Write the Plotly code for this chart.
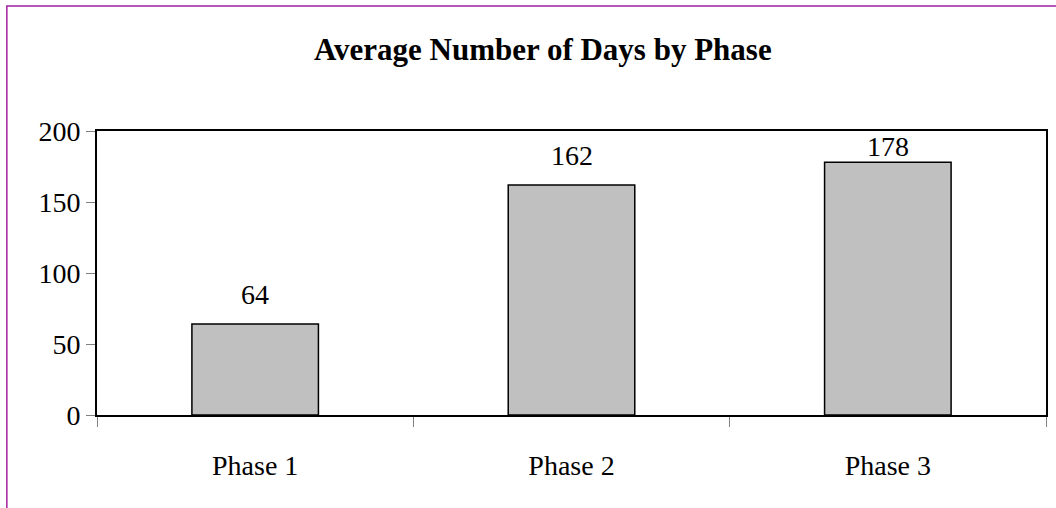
import plotly.graph_objects as go

# chart data
phases = ["Phase 1", "Phase 2", "Phase 3"]
avg_days = [64, 162, 178]
label_shift = [16, 16, 2]  # 178 label squeezed under the top border
y_ticks = [0, 50, 100, 150, 200]

font_family = "Liberation Serif"

fig = go.Figure(
    go.Bar(
        x=phases,
        y=avg_days,
        marker=dict(color="#C0C0C0", line=dict(color="black", width=1.5)),
        width=0.4,
    )
)

# value labels above the bars
for name, val, shift in zip(phases, avg_days, label_shift):
    fig.add_annotation(
        x=name,
        y=val,
        text=str(val),
        showarrow=False,
        yanchor="bottom",
        yshift=shift - 4,
        font=dict(family=font_family, size=28, color="black"),
    )

# purple frame around the whole chart (cut off at right and bottom)
fig.add_shape(
    type="rect",
    xref="paper",
    yref="paper",
    x0=-0.095,
    x1=1.2,
    y0=-0.6,
    y1=1.44,
    line=dict(color="#A020A0", width=1.5),
    layer="below",
)

fig.update_layout(
    width=1056,
    height=508,
    margin=dict(l=97, r=8, t=131, b=93),
    paper_bgcolor="white",
    plot_bgcolor="white",
    showlegend=False,
    font=dict(family=font_family, size=28, color="black"),
    title=dict(
        text="<b>Average Number of Days by Phase</b>",
        x=0.514,
        xref="container",
        xanchor="center",
        y=1 - 49 / 508,
        yref="container",
        yanchor="middle",
        font=dict(family=font_family, size=31, color="black"),
    ),
)

fig.update_xaxes(
    type="category",
    tickson="boundaries",
    ticks="outside",
    ticklen=10,
    tickcolor="#808080",
    showline=True,
    linecolor="black",
    linewidth=2,
    mirror=True,
    showgrid=False,
    ticklabelstandoff=24,
)
fig.update_yaxes(
    range=[0, 200],
    tickvals=y_ticks,
    ticks="outside",
    ticklen=9,
    tickcolor="#808080",
    showline=True,
    linecolor="black",
    linewidth=2,
    mirror=True,
    showgrid=False,
    zeroline=False,
    ticklabelstandoff=0,
)

# drop the default page margin so the figure sits at the window origin
fig.write_html(
    "out.html",
    config={"displayModeBar": False},
    post_script="document.body.style.margin='0px';",
)
